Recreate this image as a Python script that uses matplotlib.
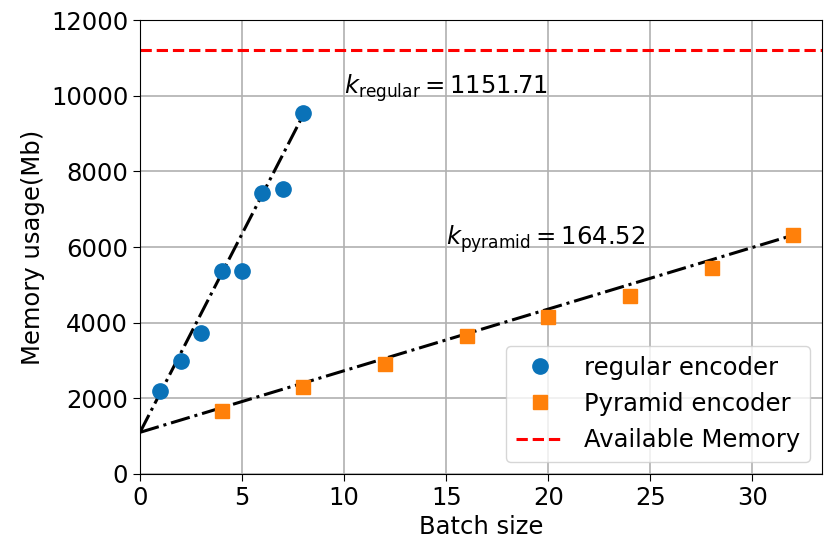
import matplotlib
matplotlib.use("Agg")
import matplotlib.pyplot as plt
import numpy as np

reg_batch = [1, 2, 3, 4, 5, 6, 7, 8]
reg_mem = [2200, 2990, 3730, 5370, 5370, 7430, 7540, 9550]
pyr_batch = [4, 8, 12, 16, 20, 24, 28, 32]
pyr_mem = [1670, 2300, 2910, 3650, 4150, 4710, 5450, 6310]
available_memory = 11200
fit_intercept = 1100
reg_fit_slope = 1050
pyr_fit_slope = 163
k_regular = "1151.71"
k_pyramid = "164.52"

FS = 17.5

fig = plt.figure(figsize=(8.26, 5.46), dpi=100)
ax = fig.add_axes([0.1695, 0.132, 0.8255, 0.831])

ax.grid(True, color="#b0b0b0", linewidth=1.2, zorder=0)
ax.set_axisbelow(True)

ax.axhline(available_memory, color="red", linestyle="--", linewidth=2.2, label="Available Memory", zorder=2)

xr = np.array([0, reg_batch[-1]])
ax.plot(xr, fit_intercept + reg_fit_slope * xr, color="black", linestyle="-.", linewidth=2.2, zorder=3)
xp = np.array([0, pyr_batch[-1]])
ax.plot(xp, fit_intercept + pyr_fit_slope * xp, color="black", linestyle="-.", linewidth=2.2, zorder=3)

ax.plot(reg_batch, reg_mem, "o", color="#0a72b8", markersize=11, label="regular encoder", zorder=4)
ax.plot(pyr_batch, pyr_mem, "s", color="#ff800a", markersize=10.5, label="Pyramid encoder", zorder=4)

ax.text(10, 10200, r"$k_{\mathrm{regular}} = $" + k_regular, fontsize=FS, va="center", ha="left")
ax.text(15, 6200, r"$k_{\mathrm{pyramid}} = $" + k_pyramid, fontsize=FS, va="center", ha="left")

ax.set_xlim(0, 33.4)
ax.set_ylim(0, 12000)
ax.set_xticks([0, 5, 10, 15, 20, 25, 30])
ax.set_yticks([0, 2000, 4000, 6000, 8000, 10000, 12000])
ax.tick_params(labelsize=FS, length=5)
ax.set_xlabel("Batch size", fontsize=FS)
ax.set_ylabel("Memory usage(Mb)", fontsize=FS)

handles, labels = ax.get_legend_handles_labels()
order = [1, 2, 0]
ax.legend([handles[i] for i in order], [labels[i] for i in order], loc="lower right", fontsize=FS, framealpha=0.8)

fig.savefig("out.png", dpi=100)
